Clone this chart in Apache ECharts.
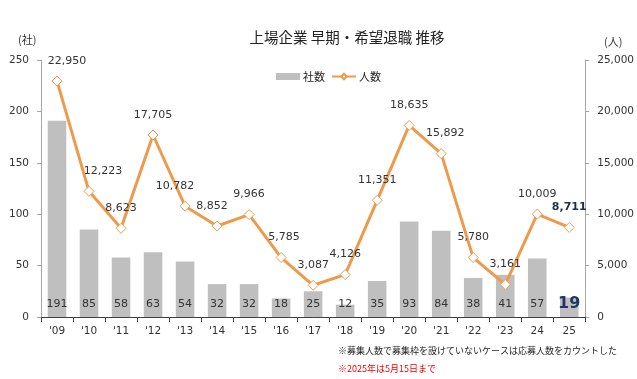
<!DOCTYPE html>
<html><head><meta charset="utf-8">
<script src="https://cdn.jsdelivr.net/npm/echarts@6/dist/echarts.min.js"></script>
<style>html,body{margin:0;padding:0;background:#fff}#c{width:637px;height:379px}</style>
</head><body><div id="c"></div>
<script>
const categories = ["'09","'10","'11","'12","'13","'14","'15","'16","'17","'18","'19","'20","'21","'22","'23","24","25"];
const companies = [191,85,58,63,54,32,32,18,25,12,35,93,84,38,41,57,19];
const people = [22950,12223,8623,17705,10782,8852,9966,5785,3087,4126,11351,18635,15892,5780,3161,10009,8711];
const leftTicks = [0,50,100,150,200,250];
const rightTicks = [0,5000,10000,15000,20000,25000];

// label placement tweaks (style only)
const lineLabelShift = [[10,0],[14,0],[0,0],[0,0],[-10,0],[-5,0],[0,0],[3,0],[0,0],[0,0],[0,0],[0,0],[4,0],[0,0],[0,0],[0,0],[0,0]];

const NUM = "'DejaVu Sans', Verdana, sans-serif";
const JP = "'Noto Sans CJK JP', sans-serif";
const last = categories.length - 1;

const chart = echarts.init(document.getElementById('c'), null, {renderer:'canvas'});
chart.setOption({
  animation:false,
  backgroundColor:'#fff',
  title:{text:'上場企業 早期・希望退職 推移', left:342, top:25, textAlign:'center',
    textStyle:{fontFamily:JP, fontSize:14.5, fontWeight:'normal', color:'#222'}},
  legend:{top:66, left:271, itemWidth:24, itemHeight:7, itemGap:6,
    textStyle:{fontFamily:JP, fontSize:11, color:'#222', padding:[0,0,0,-2]},
    data:[{name:'社数', icon:'rect'}, {name:'人数'}]},
  grid:{left:41, right:49, top:60, bottom:62},
  xAxis:{type:'category', data:categories,
    axisLine:{lineStyle:{color:'#404040', width:1}},
    axisTick:{show:true, length:5, lineStyle:{color:'#404040'}},
    axisLabel:{fontFamily:NUM, fontSize:10.5, color:'#333', margin:9}},
  yAxis:[
    {type:'value', min:0, max:250, interval:50,
     axisLine:{show:true, lineStyle:{color:'#a6a6a6'}},
     axisTick:{show:true, length:4, lineStyle:{color:'#a6a6a6'}},
     splitLine:{show:false},
     axisLabel:{fontFamily:NUM, fontSize:10.5, color:'#333', margin:12}},
    {type:'value', min:0, max:25000, interval:5000,
     axisLine:{show:true, lineStyle:{color:'#a6a6a6'}},
     axisTick:{show:true, length:4, lineStyle:{color:'#a6a6a6'}},
     splitLine:{show:false},
     axisLabel:{fontFamily:NUM, fontSize:10.5, color:'#333', margin:12,
       formatter:v=>v.toLocaleString('en-US')}}
  ],
  series:[
    {name:'社数', type:'bar', yAxisIndex:0, barWidth:'58%',
     itemStyle:{color:'#bfbfbf'},
     data:companies.map((v,i)=> i===last ? {value:v, label:{fontSize:16, fontWeight:'bold', color:'#1f3864', distance:5}} : v),
     label:{show:true, position:'insideBottom', distance:7, fontFamily:NUM, fontSize:11, color:'#333'}},
    {name:'人数', type:'line', yAxisIndex:1, z:5,
     lineStyle:{color:'#ee9a4c', width:3},
     itemStyle:{color:'#fff', borderColor:'#ee9a4c', borderWidth:1},
     symbol:'diamond', symbolSize:10, showAllSymbol:true,
     data:people.map((v,i)=>{
       const o = {value:v, label:{offset:lineLabelShift[i]}};
       if(i===last){ o.label.fontWeight='bold'; o.label.color='#1f2f4a'; }
       return o;
     }),
     label:{show:true, position:'top', distance:9, fontFamily:NUM, fontSize:11, color:'#333',
       formatter:p=>p.value.toLocaleString('en-US')}}
  ],
  graphic:[
    {type:'text', left:18, top:34, style:{text:'(社)', font:'11px '+JP, fill:'#333'}},
    {type:'text', left:604, top:36, style:{text:'(人)', font:'11px '+JP, fill:'#333'}},
    {type:'text', left:338, top:346, style:{text:'※募集人数で募集枠を設けていないケースは応募人数をカウントした', font:'9px '+JP, fill:'#222'}},
    {type:'text', left:338, top:364, style:{text:'※2025年は5月15日まで', font:'9px '+JP, fill:'#ee0000'}}
  ]
});
</script></body></html>
